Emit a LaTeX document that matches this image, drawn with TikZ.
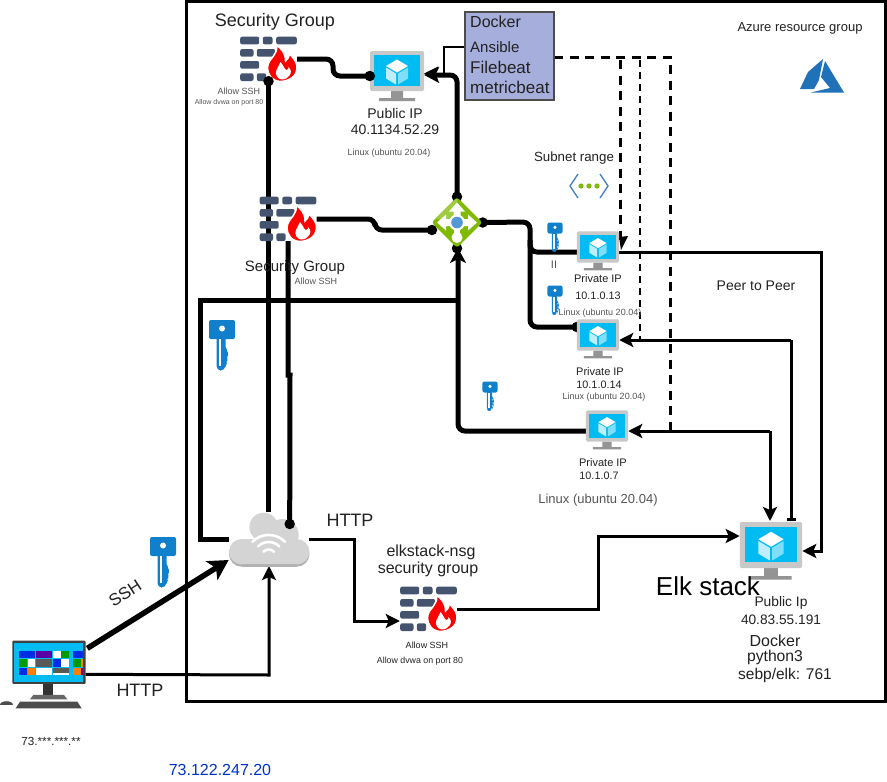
\documentclass[tikz,border=0pt]{standalone}
\usepackage{fontspec}
\setmainfont{Liberation Sans}
\usetikzlibrary{arrows.meta,shapes.geometric,backgrounds}

\definecolor{brick}{HTML}{44546F}
\definecolor{vmframe}{HTML}{C8C8C8}
\definecolor{vmstand}{HTML}{949494}
\definecolor{vmscreen}{HTML}{00BCF2}
\definecolor{keyblue}{HTML}{1080CC}
\definecolor{azureblue}{HTML}{2072B8}
\definecolor{routergreen}{HTML}{7FBA00}
\definecolor{dockerfill}{HTML}{A6AEDB}
\definecolor{txt}{HTML}{222222}
\definecolor{txtgrey}{HTML}{555555}

\tikzset{
  lbl/.style={inner sep=0,text=txt,font=\fontsize{#1}{#1}\selectfont},
  small/.style={inner sep=0,text=txtgrey,font=\fontsize{#1}{#1}\selectfont},
  fat/.style={line width=5pt,rounded corners=7pt},
  wire/.style={line width=3pt},
  dash line/.style={line width=3pt,dash pattern=on 9pt off 6.5pt},
  tipfat/.style={-{Stealth[length=15pt,width=16pt,inset=4pt]}},
  tipwire/.style={-{Stealth[length=14pt,width=14pt,inset=3pt]}},
  vmicon/.pic={
    \fill[vmstand] (-6,20) rectangle (6,27) (-18,27) rectangle (18,30);
    \fill[vmframe,rounded corners=1.5pt] (-27,-20) rectangle (27,20);
    \fill[vmscreen] (-23,-16) rectangle (23,15);
    \fill[white] (0,-11.5) -- (11,-5) -- (0,1.5) -- (-11,-5) -- cycle;
    \fill[white!75!vmscreen] (-11,-3.5) -- (-1,2.5) -- (-1,13.5) -- (-11,7.5) -- cycle;
    \fill[white!50!vmscreen] (11,-3.5) -- (1,2.5) -- (1,13.5) -- (11,7.5) -- cycle;
    \node[inner sep=0,minimum width=54pt,minimum height=40pt,transform shape] (-box) at (0,0) {};
  },
  firewall/.pic={
    \fill[brick,rounded corners=2pt]
      (-28.3,-22.3) rectangle (-9.3,-14.7) (-5.7,-22.3) rectangle (4,-14.7) (7.7,-22.3) rectangle (28.3,-14.7)
      (-28.3,-10) rectangle (-15,-2.3) (-11.7,-10) rectangle (6.7,-2.3)
      (-28.3,2) rectangle (-9.3,9.7)
      (-28.3,14.3) rectangle (-15,22) (-11.7,14.3) rectangle (-2.3,22);
    \fill[red,draw=white,line width=1.5pt] (12,22.5) .. controls (3,22) and (-1,15) .. (-1,9)
      .. controls (-1,3) and (3,0) .. (5,-3) .. controls (7,-6) and (9,-9) .. (8,-14)
      .. controls (13,-10) and (17,-6) .. (17,2) .. controls (19,0) and (21,-2) .. (21,-5)
      .. controls (26,0) and (29,4) .. (28.5,10) .. controls (28,17) and (21,22) .. (12,22.5) -- cycle;
    \fill[white] (13,20.5) .. controls (9,20) and (6,15) .. (8,11) .. controls (9,8) and (11,6) .. (12,3)
      .. controls (15,6) and (16,11) .. (18,11) .. controls (20,11) and (20,9) .. (20,8)
      .. controls (23,11) and (23,14) .. (21,16.5) .. controls (19,19) and (17,20.5) .. (13,20.5) -- cycle;
    \node[inner sep=0,minimum width=57pt,minimum height=44pt] (-box) at (0,0) {};
  },
  keyicon/.pic={
    \fill[keyblue,rounded corners=2pt] (-13,-25) rectangle (13,-6);
    \fill[keyblue,rounded corners=2pt] (-5.5,-8) -- (3.5,-8) -- (3.5,4) -- (6.5,6) -- (5,9) -- (6.5,12) -- (4,15)
      -- (6,17) -- (3.5,20) -- (3.5,23) -- (0,25.5) -- (-3,25.5) -- (-5.5,23) -- cycle;
    \fill[white] (0,-16.5) circle (3);
    \fill[white] (-2.8,-6) rectangle (-0.8,21);
  },
  routericon/.pic={
    \node[diamond,fill=routergreen,inner sep=0,minimum width=51pt,minimum height=51pt,rounded corners=3pt] (-box) at (0,0) {};
    \fill[white!25!routergreen] (-21,-4) -- (-4,-21) -- (0,-24) -- (0,0) -- cycle;
    \fill[white] (0,-20) -- (8,-11) -- (3.5,-11) -- (3.5,-5) -- (-3.5,-5) -- (-3.5,-11) -- (-8,-11) -- cycle;
    \fill[white] (-20,0) -- (-11,-8) -- (-11,-3.5) -- (-5,-3.5) -- (-5,3.5) -- (-11,3.5) -- (-11,8) -- cycle;
    \fill[white] (20,0) -- (11,-8) -- (11,-3.5) -- (5,-3.5) -- (5,3.5) -- (11,3.5) -- (11,8) -- cycle;
    \fill[white] (-3,5) rectangle (3,13);
    \fill[white] (0,15) circle (5.5);
    \fill[white] (0,0) circle (8);
    \fill[cyan!60!blue!70!white] (0,0) circle (5.8);
  },
  cloudicon/.pic={
    \foreach \cx/\cy/\cr in {-27/15/12.7,28/15/12.7}
      \fill[black!30] (\cx,\cy) circle (\cr);
    \fill[black!30] (-27,7) rectangle (28,27.7);
    \foreach \cx/\cy/\cr in {-27/12.7/12.7,-5/-12/14.3,14/-4/16,28/12.7/12.7}
      \fill[black!17] (\cx,\cy) circle (\cr);
    \fill[black!17] (-27,0) rectangle (28,25.4);
    \fill[black!17] (-10,-10) rectangle (10,5);
    \draw[white,line width=2.6pt,line cap=round] (-16.3,2.7) arc[start angle=-135,end angle=-45,radius=23]
      (-10.6,7.4) arc[start angle=-135,end angle=-45,radius=15]
      (-5.3,12.7) arc[start angle=-135,end angle=-45,radius=7.5];
    \node[inner sep=0,minimum width=80pt,minimum height=54pt] (-box) at (0,0) {};
    \coordinate (-dot) at (21,-15);
    \coordinate (-ssh) at (-40,21);
  },
  subneticon/.pic={
    \draw[cyan!50!blue!80!white,line width=1.3pt] (-11,-12) -- (-19,0) -- (-11,12) (11,-12) -- (19,0) -- (11,12);
    \fill[routergreen] (-8,0) circle (2.6) (0,0) circle (2.6) (8,0) circle (2.6);
  },
  desktopicon/.pic={
    \begin{scope}[x=0.3333pt,y=-0.3333pt]
      \fill[black!75,rounded corners=1pt] (37,422) rectangle (257,552);
      \fill[vmscreen] (43,428) rectangle (250,545);
      \foreach \xa/\ya/\xb/\yb/\tile in {58/452/105/475/blue!80!cyan!90!black,108/452/155/475/violet!70!blue,158/452/182/475/white,183/452/207/475/green!60!black,219/452/250/475/blue!80!cyan!90!black,
        58/477/81/500/green!60!black,83/477/105/500/white,108/477/155/500/black!65,158/477/182/500/blue!80!cyan!90!black,183/477/207/500/white,219/477/242/500/green!60!black,243/477/250/500/orange,
        58/503/81/525/blue!80!cyan!90!black,83/503/105/525/orange,108/503/155/525/white,158/503/207/518/black!65,158/518/207/525/white,219/503/242/525/orange,243/503/250/525/violet}
        \fill[\tile] (\xa,\ya) rectangle (\xb,\yb);
      \fill[black!80] (130,552) rectangle (160,590);
      \fill[black!60] (100,585) -- (192,585) -- (202,598) -- (90,598) -- cycle;
      \fill[black!70] (60,605) -- (232,605) -- (245,625) -- (47,625) -- cycle;
      \fill[black!70] (0,616) .. controls (0,600) and (40,600) .. (40,616) -- cycle;
      \coordinate (-ssh) at (262,445);
      \coordinate (-http) at (257,523);
    \end{scope}
  },
  dotmark/.style={fill=black,circle,inner sep=0,minimum size=10.5pt},
}

\begin{document}
\begin{tikzpicture}[x=1pt,y=-1pt]
  \useasboundingbox (0,0) rectangle (887,782);

  % machines
  \pic (web) at (397,71) {vmicon};
  \pic (fwa) at (268.5,59) {firewall};
  \pic (fwb) at (288,219) {firewall};
  \pic (fwc) at (428.5,609) {firewall};
  \pic (router) at (457,222.5) {routericon};
  \pic (cloud) at (268.7,539) {cloudicon};
  \pic[scale=.78] (vma) at (598,247) {vmicon};
  \pic[scale=.78] (vmb) at (598,335) {vmicon};
  \pic[scale=.78] (vmc) at (607,426) {vmicon};
  \pic[scale=1.15] (elk) at (771,545) {vmicon};
  \pic (pc) at (0,500) {desktopicon};

  \coordinate (dashcorner) at (670,57);
  \coordinate (loopa) at (200,539);
  \coordinate (loopb) at (200,300);

  \begin{scope}[on background layer]
    \fill[white] (0,0) rectangle (887,782);
    \draw[line width=3pt] (186,1.5) rectangle (885.5,701);

    % fat wires
    \draw[fat] (fwa-box.east) -- (333,59) -- (333,76) -- (web-box.west |- 0,76);
    \draw[line width=5pt] (fwa-box.south) -- (cloud-box.north -| fwa-box.south);
    \draw[fat] (fwb-box.east) -- (375,219) -- (375,230) -- (router-box.west |- 0,230);
    \draw[line width=5pt] (fwb-box.south) -- (288,375) -- (290,375) -- (cloud-dot);
    \draw[fat,tipfat] (router-box.north) -- (457,75) -- (web-box.east |- 0,75);
    \draw[fat] (router-box.east) -- (530,222) -- (530,327) -- (vmb-box.west |- 0,327);
    \draw[fat] (530,240) -- (530,252) -- (vma-box.west |- 0,252);
    \draw[fat,tipfat] (vmc-box.west |- 0,431) -- (458,431) -- (458,248);
    \draw[line width=5pt] (cloud-box.west |- loopa) -- (loopa) -- (loopb) -- (458,300);
    \node[dotmark] (dotn) at (router-box.north) {};
    \node[dotmark] (dote) at (router-box.east) {};
    \node[dotmark] (dots) at (router-box.south) {};
    \node[dotmark] (dotw) at (432,230) {};
    \node[dotmark] (dotb) at (vmb-box.west |- 0,327) {};

    % thin wires
    \draw[wire,tipwire] (vma-box.east |- 0,252) -- (821,252) -- (821,551) -- (elk-box.east |- 0,551);
    \draw[wire,tipwire] (791,340) -- (vmb-box.east |- 0,340);
    \draw[wire,-{Bar[width=9pt]}] (791,340) -- (791,521);
    \draw[wire,tipwire] (770,431) -- (vmc-box.east |- 0,431);
    \draw[wire,tipwire] (770,431) -- (770,521);
    \draw[wire,tipwire] (cloud-box.east |- 0,539) -- (354,539) -- (354,621) -- (fwc-box.west |- 0,621);
    \draw[wire,tipwire] (fwc-box.east) -- (598,609) -- (598,536) -- (elk-box.west |- 0,536);
    \draw[line width=5.5pt,-{Stealth[length=20pt,width=22pt,inset=5pt]}] (pc-ssh) -- (cloud-ssh);
    \draw[wire,tipwire] (pc-http) -- (269,675) -- (269,566);

    % dashed wires out of the docker box
    \draw[dash line] (554,57) -- (dashcorner) -- (670,431);
    \draw[dash line] (620,60) -- (620,240);
    \draw[line width=2.5pt,dash pattern=on 7pt off 5pt] (640,60) -- (640,340);
    \fill (619,237) -- (628,236) -- (621,250) -- cycle;
  \end{scope}

  % dots lying over the icons
  \node[dotmark] (dotwebl) at (web-box.west |- 0,76) {};
  \node[dotmark] (dotfwa) at (fwa-box.south) {};
  \node[dotmark] (dotcloud) at (cloud-dot) {};

  \pic at (222,345) {keyicon};
  \pic at (163,562) {keyicon};
  \pic[scale=.58] at (555,237) {keyicon};
  \pic[scale=.58] at (555,300) {keyicon};
  \pic[scale=.58] at (490,396) {keyicon};
  \pic at (589,186) {subneticon};

  % azure logo
  \fill[azureblue] (823,59) -- (808,72) -- (800,89) -- (814,89) -- (819,80) -- cycle;
  \fill[azureblue] (825,61) -- (844,92.5) -- (811,92.5) -- (830,88) -- (821,77) -- cycle;

  % docker box
  \node[draw=black!70,fill=dockerfill,line width=1.5pt,minimum width=89pt,minimum height=88pt,inner sep=0] (docker) at (509.5,56) {};
  \draw[line width=2pt,tipwire] (docker.west |- 0,47) -- (444,47) -- (444,73.5) -- (web-box.east |- 0,73.5);
  \node[lbl=16,anchor=west] (dockertxt) at (470,22) {Docker};
  \node[lbl=15,anchor=west] (ansibletxt) at (470,47) {Ansible};
  \node[lbl=17,anchor=west] (filebeattxt) at (470,67) {Filebeat};
  \node[lbl=17,anchor=west] (metrictxt) at (470,87) {metricbeat};

  % labels
  \node[lbl=18] (sgatxt) at (275,22) {Security Group};
  \node[small=9] (sgassh) at (239,91) {Allow SSH};
  \node[small=7] (sgadvwa) at (229,103) {Allow dvwa on port 80};
  \node[lbl=14] (webip) at (395,113) {Public IP};
  \node[lbl=14] (webaddr) at (395,130) {40.1134.52.29};
  \node[small=9] (weblinux) at (389,153) {Linux (ubuntu 20.04)};
  \node[lbl=13.3] (subnettxt) at (574,158) {Subnet range};
  \node[lbl=13] (rgtxt) at (800,28) {Azure resource group};
  \node[lbl=15] (sgbtxt) at (295,268) {Security Group};
  \node[small=9] (sgbssh) at (316,281) {Allow SSH};
  \node[small=11] (iitxt) at (554,265) {II};
  \node[lbl=11] (vmaip) at (598,279) {Private IP};
  \node[lbl=10.8] (vmaaddr) at (598,296) {10.1.0.13};
  \node[small=9] (vmalinux) at (600,313) {Linux (ubuntu 20.04)};
  \node[lbl=11] (vmbip) at (600,372) {Private IP};
  \node[lbl=10.8] (vmbaddr) at (599,385) {10.1.0.14};
  \node[small=9] (vmblinux) at (604,397) {Linux (ubuntu 20.04)};
  \node[lbl=11] (vmcip) at (603,463) {Private IP};
  \node[lbl=10.8] (vmcaddr) at (599,476) {10.1.0.7};
  \node[small=13] (vmclinux) at (598,500) {Linux (ubuntu 20.04)};
  \node[lbl=14] (peertxt) at (756,286) {Peer to Peer};
  \node[lbl=18] (httpa) at (350,520) {HTTP};
  \node[lbl=16] (nsgtxt) at (431,552) {elkstack-nsg};
  \node[lbl=16] (nsgtxtb) at (428,569) {security group};
  \node[lbl=9] (nsgssh) at (427,645) {Allow SSH};
  \node[lbl=8.8] (nsgdvwa) at (420,661) {Allow dvwa on port 80};
  \node[lbl=26,text=black] (elktxt) at (708,586) {Elk stack};
  \node[lbl=13.8] (elkip) at (781,603) {Public Ip};
  \node[lbl=13.7] (elkaddr) at (781,620) {40.83.55.191};
  \node[lbl=16] (elkdocker) at (775,641) {Docker};
  \node[lbl=15.7] (elkpy) at (775,657) {python3};
  \node[lbl=15.5] (elksebp) at (785,675) {sebp/elk: 761};
  \node[lbl=17,rotate=33] (sshtxt) at (125,593) {SSH};
  \node[lbl=18] (httpb) at (140,690) {HTTP};
  \node[lbl=11.7] (pcaddr) at (51,741) {73.***.***.**};
  \node[lbl=16,text=blue!75!cyan!80!black] (pubaddr) at (220,770) {73.122.247.20};
\end{tikzpicture}
\end{document}
